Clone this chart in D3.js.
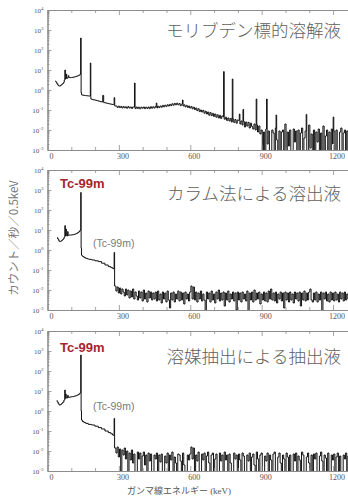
<!DOCTYPE html>
<html><head><meta charset="utf-8">
<script src="https://cdn.jsdelivr.net/npm/d3@7"></script>
<style>body{margin:0;background:#fff}svg{display:block}</style>
</head><body><svg id="chart" width="348" height="499"></svg>
<script>
// Gamma-ray spectra, values are log10(counts / s / 0.5 keV).

// Molybdenum target solution: low-energy part [keV, log10]
const moLow = [[33,0.45],[37,0.4],[41,0.32],[45,0.25],[49,0.2],[53,0.2],[57,0.24],[61,0.28],[65,0.32],[69,0.38],[72,0.5],[76,0.55],[79,0.6],[82,0.58],[87,0.62],[92,0.62],[98,0.62],[104,0.63],[110,0.64],[116,0.66],[122,0.68],[128,0.71],[134,0.74],[138,0.78],[142,-0.15],[144,-0.24],[150,-0.26],[156,-0.27],[162,-0.28],[168,-0.29],[174,-0.3],[179,-0.3],[183,-0.44],[188,-0.47],[194,-0.49],[200,-0.5],[206,-0.52],[212,-0.54],[218,-0.56],[224,-0.58],[230,-0.6],[238,-0.63],[244,-0.64],[250,-0.66],[256,-0.68],[262,-0.69],[268,-0.71],[274,-0.72],[279,-0.73],[284,-0.8]];
// 5 keV channels from 290 keV
const moTailStart = 290;
const moTail = [-0.8,-0.87,-0.81,-0.88,-0.82,-0.9,-0.83,-0.89,-0.84,-0.91,-0.83,-0.9,-0.85,-0.92,-0.85,
-0.86,-0.93,-0.85,-0.92,-0.86,-0.94,-0.86,-0.91,-0.85,-0.93,-0.86,-0.92,-0.85,-0.93,-0.84,-0.91,-0.84,-0.9,
-0.83,-0.9,-0.81,-0.88,-0.8,-0.86,-0.77,-0.84,-0.76,-0.82,-0.74,-0.8,-0.72,-0.78,-0.69,-0.76,-0.67,-0.74,
-0.66,-0.74,-0.68,-0.78,-0.71,-0.8,-0.74,-0.84,-0.77,-0.87,-0.8,-0.9,-0.83,-0.94,-0.86,-0.98,-0.9,-1.03,-0.94,-1.08,-1.0,-1.1,
-1.02,-1.16,-1.06,-1.2,-1.1,-1.26,-1.13,-1.28,-1.17,-1.32,-1.2,-1.36,-1.24,-1.4,-1.27,-1.42,-1.3,
-1.34,-1.46,-1.36,-1.52,-1.4,-1.55,-1.42,-1.6,-1.45,-1.62,-1.48,-1.66,-1.5,
-1.52,-1.7,-1.55,-1.75,-1.58,-1.85,-1.6,-1.8,-1.62,-1.9,-1.66,-1.82,-1.95,-1.7,-2.0,-1.75,-2.1,-1.8,-2.2,
-2.0,-3.3,-2.1,-3.3,-1.95,-2.7,-2.05,-3.3,-3.3,-2.0,
-2.15,-3.3,-1.9,-2.5,-3.3,-2.05,-3.3,-2.1,-2.0,-3.3,
-1.7,-3.3,-2.1,-2.8,-2.0,-3.3,-3.3,-1.95,-2.6,-2.05,
-3.3,-2.0,-3.3,-2.15,-1.9,-3.3,-2.4,-2.05,-3.3,-3.3,
-1.75,-2.9,-2.2,-3.3,-2.0,-3.3,-2.1,-2.6,-1.95,-3.3,
-2.15,-3.3,-1.8,-3.3,-2.3,-2.0,-3.3,-2.1,-3.3,-1.95,
-2.7,-2.05,-3.3,-2.0,-3.3,-3.3,-2.1,-1.9,-3.3,-2.15,
-2.0,-3.3,-2.05,-3.3];
const moPeaks = [[74,1.0],[79.5,0.8],[87.5,0.72],[140.5,2.6],[181,1.35],[234,-0.27],[281,-0.38],[366,0.35],[459,-0.65],[569,-0.5],[740,0.92],[778,0.55],[807,-1.2],[823,-0.97],[879,-0.45],[921,-0.45],[961,-1.25],[1089,-1.22],[1201,-1.35]];

// Column-method eluate
const colLow = [[41,0.63],[45,0.55],[49,0.46],[53,0.42],[57,0.44],[61,0.48],[65,0.52],[69,0.58],[72,0.65],[76,0.7],[80,0.72],[84,0.7],[88,0.74],[94,0.75],[100,0.75],[106,0.76],[112,0.78],[118,0.8],[124,0.83],[130,0.88],[135,0.93],[139,1.0],[142,0.1],[143.6,-0.25],[147,-0.3],[150.5,-0.33],[157,-0.38],[164.5,-0.42],[172,-0.45],[180,-0.47],[192.5,-0.5],[206,-0.54],[220.6,-0.58],[234,-0.66],[248.7,-0.75],[262,-0.83],[270,-0.88],[276.7,-0.92],[279,-0.95],[283,-1.8]];
const colTailStart = 285;
const colTail = [-1.8,-2.05,-1.85,-2.15,-1.9,-2.2,-1.95,-2.1,-2.3,-1.95,
-2.25,-2.0,-2.4,-2.05,-2.35,-1.95,-2.45,-2.1,-2.3,-2.5,-2.05,-2.4,-2.1,-2.55,-2.0,-2.45,-2.15,-2.6,-2.05,-2.4,-2.1,-2.5,-2.15,-2.45,
-2.1,-2.55,-2.05,-2.5,-2.2,-2.65,-2.1,-2.45,-2.15,-2.6,-2.05,-2.5,-2.9,-2.15,-2.5,-2.1,-2.6,-2.2,-2.45,-2.05,-2.55,-2.1,-2.5,-2.15,-2.7,-2.1,-2.45,-2.2,-2.55,-2.1,
-1.8,-2.45,-1.85,-2.5,-2.1,-2.6,-2.15,-2.45,-2.05,-2.55,-2.2,-2.5,-3.1,-2.1,-2.45,-2.15,-2.6,-2.05,-2.5,-2.2,-2.65,-2.1,-2.45,-2.0,-2.55,-2.15,-2.5,-2.1,-2.8,-2.15,-2.5,-2.05,-2.6,-2.2,-2.45,-2.1,-2.55,-2.15,-3.0,-2.1,
-2.5,-2.15,-2.6,-2.1,-2.45,-2.2,-2.55,-2.05,-3.1,-2.15,-2.5,-2.1,-2.6,-2.0,-2.5,-2.15,-2.45,-2.1,-2.7,-2.2,-2.5,-2.1,-2.55,-2.15,-2.6,-2.05,-2.45,-1.95,-2.5,-2.15,-2.55,-2.1,-2.65,-2.2,-2.45,-2.1,-2.55,-2.15,-2.9,-2.1,
-2.5,-2.15,-2.6,-2.1,-2.5,-2.2,-2.65,-2.1,-2.45,-2.15,-2.55,-2.1,-2.8,-2.15,-2.5,-2.05,-2.55,-2.15,-2.5,-2.1,-1.95,-2.5,-2.6,-2.15,-2.5,-2.1,-2.6,-2.2,-2.5,-2.1,-3.1,-2.15,-2.45,-2.1,-2.55,-2.2,-2.6,-2.1,-2.5,-2.15,-2.55,-2.1,-2.5,-2.2,-2.6,-2.1,-2.45,-2.15,-2.55,-2.1,-2.5,-2.2,-2.45];
const colPeaks = [[74,1.22],[78,1.05],[85,0.92],[140.5,2.88],[281,-0.12]];

// Solvent-extraction extract
const solLow = [[39,0.52],[43,0.45],[47,0.36],[51,0.3],[55,0.31],[59,0.35],[63,0.4],[67,0.45],[71,0.55],[75,0.62],[79,0.66],[84,0.65],[90,0.68],[96,0.7],[102,0.71],[108,0.72],[114,0.74],[120,0.76],[126,0.79],[132,0.83],[136,0.87],[139,0.92],[142,0.0],[143.6,-0.45],[150,-0.53],[157,-0.58],[164.5,-0.62],[178,-0.67],[192.5,-0.7],[206,-0.76],[220.6,-0.83],[234,-0.9],[248.7,-1.0],[262,-1.08],[270,-1.14],[276.7,-1.2],[279,-1.22],[283,-1.85]];
const solTailStart = 285;
const solTail = [-1.85,-2.1,-1.8,-2.3,-1.9,-3.3,-1.95,-2.2,-1.85,-2.4,
-2.0,-3.3,-2.1,-2.45,-1.95,-2.6,-2.15,-3.3,-3.3,-2.05,-2.4,-2.1,-3.3,-2.25,-2.05,-2.7,-2.2,-3.3,-2.1,-2.5,-2.15,-3.3,-3.3,-2.2,
-2.4,-2.1,-3.3,-2.2,-2.55,-2.15,-3.3,-3.3,-2.25,-2.6,-2.1,-3.3,-2.2,-2.45,-2.05,-3.3,-2.3,-2.6,-3.3,-2.15,-2.2,-2.5,-3.3,-2.1,-2.7,-3.3,-3.3,-2.2,-2.45,-2.15,
-1.8,-2.4,-1.85,-3.3,-2.2,-2.5,-2.05,-3.3,-3.3,-2.15,-2.45,-2.1,-3.3,-2.25,-2.05,-2.6,-3.3,-2.2,-2.1,-3.3,-2.4,-2.15,-3.3,-3.3,-2.1,-2.5,-2.2,-3.3,-2.05,-2.45,-2.2,-3.3,-2.15,-2.6,-3.3,-3.3,-2.1,-2.4,-2.2,-3.3,
-2.15,-2.45,-3.3,-2.1,-2.25,-3.3,-3.3,-2.2,-2.5,-2.1,-3.3,-2.3,-2.15,-2.7,-3.3,-2.05,-2.4,-3.3,-2.2,-2.1,-3.3,-3.3,-2.25,-2.5,-2.1,-3.3,-2.2,-2.45,-3.3,-2.15,-2.05,-3.3,-3.3,-2.3,-2.1,-2.6,-3.3,-2.2,-2.4,-3.3,
-2.1,-2.3,-3.3,-2.2,-3.3,-3.3,-2.15,-2.5,-2.1,-3.3,-2.25,-2.45,-3.3,-2.05,-2.2,-3.3,-3.3,-2.3,-2.1,-2.6,-3.3,-2.2,-3.3,-2.15,-2.4,-2.1,-3.3,-3.3,-2.25,-2.05,-2.5,-3.3,-2.2,-2.35,-3.3,-2.1,-3.3,-3.3,-2.2,-2.45,-2.15,-3.3,-2.3,-2.1,-3.3,-2.25,-3.3,-3.3,-2.2,-2.4,-2.1,-3.3,-2.25];
const solPeaks = [[74,1.05],[78,0.85],[85,0.78],[140.5,2.8],[281,-0.37]];

const panelTitles = ["モリブデン標的溶解液", "カラム法による溶出液", "溶媒抽出による抽出液"];
const xMajor = [0, 300, 600, 900, 1200];
const xMinor = [100, 200, 400, 500, 700, 800, 1000, 1100];
const yExponents = [4, 3, 2, 1, 0, -1, -2, -3];

const svg = d3.select('#chart');
const AXIS = '#8c8c8c';
const SERIF = '"Liberation Serif","DejaVu Serif",serif';
const JP = '"Noto Sans CJK JP","Noto Sans CJK SC",sans-serif';
const SANS = '"Liberation Sans",Arial,sans-serif';
const PH = 140;

const x = d3.scaleLinear().domain([0, 1280]).range([47.5, 352.1]);

const panels = [
  {top: 10,  low: moLow,  start: moTailStart,  tail: moTail,  peaks: moPeaks,  titleY: 36.6,  tc: null},
  {top: 170, low: colLow, start: colTailStart, tail: colTail, peaks: colPeaks, titleY: 199.6, tc: [187.7, 247]},
  {top: 331, low: solLow, start: solTailStart, tail: solTail, peaks: solPeaks, titleY: 363.3, tc: [351.5, 410]}
];

const yMinor = [];
for (let d = -3; d < 4; d++) for (let m = 2; m <= 9; m++) yMinor.push(m * Math.pow(10, d));

function styleAxis(sel) {
  sel.select('.domain').attr('stroke', AXIS).attr('stroke-width', 1);
  sel.selectAll('.tick line').attr('stroke', AXIS).attr('stroke-width', 0.8);
}

panels.forEach((p, i) => {
  const g = svg.append('g');
  const y = d3.scaleLog().domain([1e-3, 1e4]).range([p.top + PH, p.top]);
  const bottom = p.top + PH;

  svg.append('clipPath').attr('id', 'clip' + i)
    .append('rect').attr('x', 47.5).attr('y', p.top).attr('width', 310).attr('height', PH);

  // channel histogram: low part + 5 keV channels + peak maxima
  const pts = [...p.low, ...p.tail.map((v, k) => [p.start + k * 5, v]), ...p.peaks]
    .sort((a, b) => a[0] - b[0]);
  const line = d3.line().curve(d3.curveStep)
    .x(d => x(d[0])).y(d => y(Math.pow(10, d[1])));
  g.append('path').datum(pts)
    .attr('clip-path', `url(#clip${i})`)
    .attr('d', line).attr('fill', 'none')
    .attr('stroke', '#111').attr('stroke-width', 1);

  // left axis (major + minor log ticks, pointing inward)
  g.append('g').attr('transform', 'translate(47.5,0)')
    .call(d3.axisLeft(y).tickValues(yMinor).tickSizeInner(-2).tickSizeOuter(0).tickFormat(''))
    .call(styleAxis);
  g.append('g').attr('transform', 'translate(47.5,0)')
    .call(d3.axisLeft(y).tickValues(yExponents.map(e => Math.pow(10, e))).tickSizeInner(-4).tickSizeOuter(0).tickFormat(''))
    .call(styleAxis);

  // top and bottom axes
  [[d3.axisTop, p.top], [d3.axisBottom, bottom]].forEach(([ax, yy]) => {
    g.append('g').attr('transform', `translate(0,${yy})`)
      .call(ax(x).tickValues(xMinor).tickSizeInner(-3).tickSizeOuter(0).tickFormat(''))
      .call(styleAxis);
    g.append('g').attr('transform', `translate(0,${yy})`)
      .call(ax(x).tickValues(xMajor).tickSizeInner(-5).tickSizeOuter(0).tickFormat(''))
      .call(styleAxis);
  });

  // y tick labels 10^n
  yExponents.forEach(e => {
    const t = g.append('text').attr('x', 43.5).attr('y', y(Math.pow(10, e)) + 2.5)
      .attr('text-anchor', 'end').attr('font-family', SERIF).attr('font-size', 7).attr('fill', '#555');
    t.append('tspan').text('10');
    t.append('tspan').attr('dy', -3).attr('font-size', 5).text(e);
  });

  // x tick labels
  xMajor.forEach(v => {
    g.append('text').attr('x', x(v) + 4).attr('y', bottom + 8.5)
      .attr('text-anchor', 'middle').attr('font-family', SERIF).attr('font-size', 8).attr('fill', '#555')
      .text(v);
  });

  // panel title
  g.append('text').attr('x', 341).attr('y', p.titleY).attr('text-anchor', 'end')
    .attr('font-family', JP).attr('font-weight', 300).attr('font-size', 17.5).attr('fill', '#5e5e5e')
    .text(panelTitles[i]);

  if (p.tc) {
    g.append('text').attr('x', 60).attr('y', p.tc[0])
      .attr('font-family', SANS).attr('font-weight', 'bold').attr('font-size', 13).attr('fill', '#a4262c')
      .text('Tc-99m');
    g.append('text').attr('x', 93).attr('y', p.tc[1])
      .attr('font-family', SANS).attr('font-size', 10.5).attr('fill', '#7a7a7a')
      .text('(Tc-99m)');
  }
});

// axis titles
svg.append('text').attr('transform', 'translate(18,238) rotate(-90)')
  .attr('text-anchor', 'middle').attr('font-family', JP).attr('font-size', 11.5).attr('fill', '#777')
  .text('カウント／秒／0.5keV');
svg.append('text').attr('x', 179).attr('y', 494)
  .attr('text-anchor', 'middle').attr('font-family', `"Liberation Serif",${JP}`).attr('font-size', 9).attr('fill', '#555')
  .text('ガンマ線エネルギー (keV)');
</script></body></html>
